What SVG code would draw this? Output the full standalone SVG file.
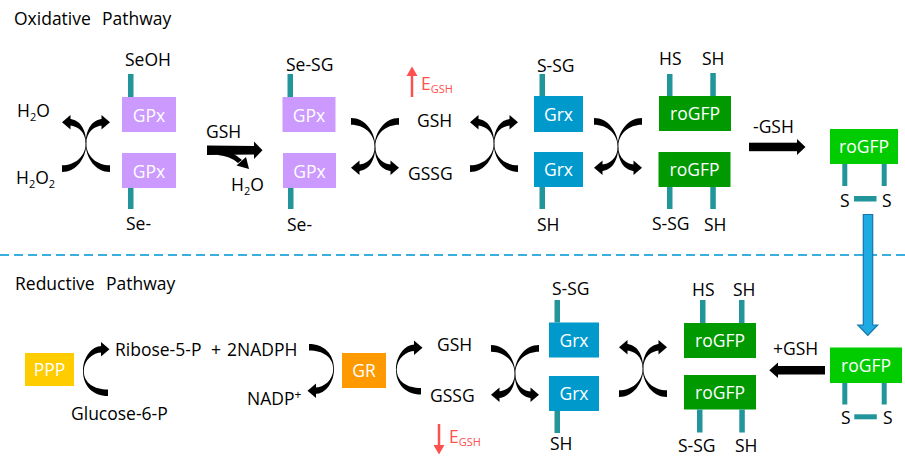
<svg xmlns="http://www.w3.org/2000/svg" xmlns:xlink="http://www.w3.org/1999/xlink" width="905" height="472" viewBox="0 0 905 472">
<style>
text{font-family:"Open Sans","Noto Sans","Liberation Sans",sans-serif;font-size:17.5px;fill:#000}
.w{fill:#fff;text-anchor:middle}
.r{fill:#ff5050}
.sub{font-size:11px}
.bar{fill:#21959a}
.gpx{fill:#cc99ff}
.grx{fill:#0099cc}
.dg{fill:#009900}
.lg{fill:#00cc00}
</style>
<defs>
<g id="arc">
<path d="M0,47.8 C13,47.8 23.6,39 23.7,26 L24.3,26 C24.3,41 14,54.5 0,54.5 Z"/>
<path d="M23.7,26 C23.7,11 31,1.5 41,1.5 L41,8 C33,8 24.3,14 24.3,26 Z"/>
<path d="M39.5,-2.5 L48,4.75 L39.5,12 Z"/>
</g>
<g id="xup">
<use xlink:href="#arc"/>
<use xlink:href="#arc" transform="translate(48,0) scale(-1,1)"/>
</g>
<g id="carc">
<path d="M25,43.5 C11,43.5 0.8,37 0.8,25 L0,25 C0,40 10,50 25,50 Z"/>
<path d="M0,25 C0,12 8,0 19,0 L19,6.5 C10,6.5 0.8,14 0.8,25 Z"/>
<path d="M18,-4 L26.5,3.25 L18,10.5 Z"/>
</g>
</defs>

<!-- section labels and divider -->
<g id="labels">
<text x="14" y="25">Oxidative</text><text x="102" y="25">Pathway</text>
<text x="15" y="290">Reductive</text><text x="106" y="290">Pathway</text>
</g>
<line x1="0" y1="255" x2="905" y2="255" stroke="#3baee0" stroke-width="2" stroke-dasharray="9 5"/>

<!-- Oxidative: GPx pair 1 -->
<g id="gpx1">
<text x="125" y="66">SeOH</text>
<rect class="bar" x="128" y="74" width="5.5" height="23"/>
<rect class="gpx" x="122" y="97" width="54" height="35"/>
<text class="w" x="149" y="121.5">GPx</text>
<rect class="gpx" x="122" y="153" width="54" height="35"/>
<text class="w" x="149" y="177.5">GPx</text>
<rect class="bar" x="128" y="188" width="5.5" height="21"/>
<text x="126" y="230">Se-</text>
</g>
<g id="water1">
<text x="17" y="117">H<tspan class="sub" dy="4">2</tspan><tspan dy="-4">O</tspan></text>
<text x="16" y="184">H<tspan class="sub" dy="4">2</tspan><tspan dy="-4">O</tspan><tspan class="sub" dy="4">2</tspan></text>
</g>
<g id="gsh1">
<text x="206" y="138">GSH</text>
<text x="231" y="191">H<tspan class="sub" dy="4">2</tspan><tspan dy="-4">O</tspan></text>
</g>
<!-- GPx pair 2 -->
<g id="gpx2">
<text x="286" y="71">Se-SG</text>
<rect class="bar" x="287.5" y="74" width="5.5" height="23"/>
<rect class="gpx" x="282.5" y="97" width="53" height="35"/>
<text class="w" x="309" y="121.5">GPx</text>
<rect class="gpx" x="283" y="153" width="53" height="35"/>
<text class="w" x="309.5" y="177.5">GPx</text>
<rect class="bar" x="288" y="188" width="5.5" height="21"/>
<text x="287" y="231">Se-</text>
</g>
<g id="glut1">
<text x="417" y="127">GSH</text>
<text x="408" y="180">GSSG</text>
<text class="r" x="421" y="90">E<tspan class="sub" dy="3">GSH</tspan></text>
<line x1="412" y1="97" x2="412" y2="74" stroke="#ff5050" stroke-width="2.5"/>
<path d="M406.5,76 L412,66.5 L417.5,76 Z" fill="#ff5050"/>
</g>
<g id="grx1">
<text x="537" y="72">S-SG</text>
<rect class="bar" x="539.5" y="74" width="5.5" height="22"/>
<rect class="grx" x="534" y="96" width="49" height="36"/>
<text class="w" x="558.5" y="120.5">Grx</text>
<rect class="grx" x="534" y="152" width="49" height="35"/>
<text class="w" x="558.5" y="176">Grx</text>
<rect class="bar" x="539.5" y="187" width="5.5" height="22"/>
<text x="537" y="231">SH</text>
</g>
<g id="rogfp1">
<text x="659" y="65">HS</text>
<text x="702" y="65">SH</text>
<rect class="bar" x="667" y="74" width="5.5" height="22"/>
<rect class="bar" x="710.3" y="73" width="5.5" height="23"/>
<rect class="dg" x="659" y="96" width="72" height="35"/>
<text class="w" x="695" y="120">roGFP</text>
<rect class="dg" x="658.5" y="152" width="72" height="35"/>
<text class="w" x="694.5" y="176">roGFP</text>
<rect class="bar" x="667" y="187" width="5.5" height="22"/>
<rect class="bar" x="710.3" y="187" width="5.5" height="22"/>
<text x="652" y="230">S-SG</text>
<text x="704" y="231">SH</text>
</g>
<g id="rogfpox1">
<rect class="lg" x="830" y="129" width="68" height="35"/>
<text class="w" x="864" y="153">roGFP</text>
<rect class="bar" x="842.3" y="164" width="5" height="22"/>
<rect class="bar" x="881.7" y="164" width="5" height="22"/>
<rect class="bar" x="854" y="196" width="22.5" height="5.5"/>
<text x="840" y="207">S</text>
<text x="882" y="207">S</text>
</g>
<text x="753" y="133">-GSH</text>

<!-- Reductive -->
<g id="ppp">
<rect x="25" y="353" width="49" height="33" fill="#ffcc00"/>
<text class="w" x="49.5" y="376">PPP</text>
</g>
<g id="sugars">
<text x="115" y="356">Ribose-5-P</text>
<text x="211" y="356">+</text>
<text x="227" y="356">2NADPH</text>
<text x="247" y="405">NADP<tspan font-size="12" dy="-6">+</tspan></text>
<text x="71" y="420">Glucose-6-P</text>
</g>
<g id="gr">
<rect x="342" y="353" width="44" height="35" fill="#ff9900"/>
<text class="w" x="364" y="377">GR</text>
</g>
<g id="glut2">
<text x="437" y="351">GSH</text>
<text x="430" y="402">GSSG</text>
<line x1="439" y1="424" x2="439" y2="447" stroke="#ff5050" stroke-width="2.5"/>
<path d="M433.5,445 L439,454.5 L444.5,445 Z" fill="#ff5050"/>
<text class="r" x="449" y="443">E<tspan class="sub" dy="3">GSH</tspan></text>
</g>
<g id="grx2">
<text x="552" y="295">S-SG</text>
<rect class="bar" x="554.5" y="300" width="5.5" height="22.5"/>
<rect class="grx" x="549" y="322.5" width="50" height="35"/>
<text class="w" x="574" y="346.5">Grx</text>
<rect class="grx" x="549" y="376" width="50" height="35"/>
<text class="w" x="574" y="400">Grx</text>
<rect class="bar" x="554.5" y="411" width="5.5" height="22"/>
<text x="550" y="450">SH</text>
</g>
<g id="rogfp2">
<text x="692" y="296">HS</text>
<text x="733" y="296">SH</text>
<rect class="bar" x="700" y="300" width="5.5" height="23"/>
<rect class="bar" x="739" y="300" width="5.5" height="23"/>
<rect class="dg" x="684" y="323" width="72" height="35"/>
<text class="w" x="720" y="347">roGFP</text>
<rect class="dg" x="684" y="375" width="72" height="34.5"/>
<text class="w" x="720" y="399">roGFP</text>
<rect class="bar" x="697" y="409.5" width="5.5" height="23"/>
<rect class="bar" x="739.3" y="409.5" width="5.5" height="23"/>
<text x="678" y="452">S-SG</text>
<text x="735" y="452">SH</text>
</g>
<g id="rogfpox2">
<rect class="lg" x="830" y="347.5" width="72" height="35.5"/>
<text class="w" x="866" y="371.5">roGFP</text>
<rect class="bar" x="842.3" y="383" width="5" height="21.5"/>
<rect class="bar" x="881.7" y="383" width="5" height="21.5"/>
<rect class="bar" x="854.3" y="414.3" width="22.5" height="5"/>
<text x="841" y="424">S</text>
<text x="883" y="424">S</text>
</g>
<text x="773" y="355">+GSH</text>

<!-- connectors -->
<g id="connectors" fill="#000">
<use xlink:href="#xup" transform="translate(62,117.5)"/>
<use xlink:href="#xup" transform="translate(351,172.5) scale(1,-1)"/>
<use xlink:href="#xup" transform="translate(470,117.5)"/>
<use xlink:href="#xup" transform="translate(594,172.5) scale(1,-1)"/>
<use xlink:href="#xup" transform="translate(491,399.5) scale(1,-1)"/>
<use xlink:href="#xup" transform="translate(619,342.5)"/>
<use xlink:href="#carc" transform="translate(83,346)"/>
<use xlink:href="#carc" transform="translate(396,344.5)"/>
<use xlink:href="#carc" transform="translate(334,394) rotate(180)"/>
<!-- GSH -> with H2O branch -->
<path d="M207,145.5 L255,146 L255,154.5 L207,155 Z"/>
<path d="M254,141.5 L262.5,150.2 L254,159 Z"/>
<path d="M218,150 Q234,152 242,160 L238,163 Q230,156 218,155 Z"/>
<path d="M236.5,165.5 L246,157 L249,169 Z"/>
<!-- -GSH -->
<rect x="749" y="142.7" width="49" height="8.5"/>
<path d="M797,139 L805.5,147 L797,155 Z"/>
<!-- +GSH -->
<rect x="777" y="366" width="48" height="8.5"/>
<path d="M778,362.5 L769.3,370.2 L778,378 Z"/>
<!-- blue transition arrow -->
<path d="M863.3,214.5 L872.7,214.5 L872.7,325 L877.7,325 L867.8,335.5 L857.8,325 L863.3,325 Z" fill="#1eaae2" stroke="#1576a8" stroke-width="1.2"/>
</g>
</svg>
